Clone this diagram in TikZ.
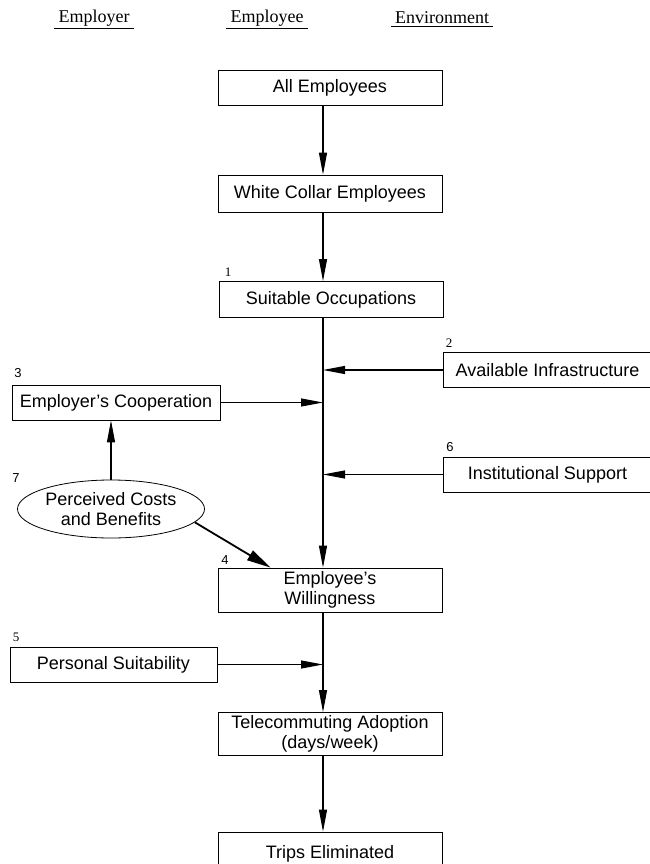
\documentclass[tikz,border=0pt]{standalone}
\usepackage{fontspec}
\setmainfont{Liberation Serif}
\setsansfont{Liberation Sans}
\usetikzlibrary{arrows.meta,shapes.geometric}

\begin{document}
\begin{tikzpicture}[x=1pt,y=-1pt,
  every node/.style = {inner sep=0pt},
  box/.style  = {draw, line width=0.8pt, minimum width=224pt, minimum height=35pt, align=center, font=\sffamily\fontsize{18}{20}\selectfont},
  oval/.style = {draw, ellipse, line width=0.8pt, minimum width=187pt, minimum height=58pt, align=center, font=\sffamily\fontsize{18}{20}\selectfont},
  head/.style = {font=\fontsize{18}{20}\selectfont},
  tag/.style  = {font=\fontsize{13}{13}\selectfont},
  tag sf/.style = {font=\sffamily\fontsize{13}{13}\selectfont},
  flow edge/.style = {-{Triangle[length=22pt,width=8pt]}, line width=1.1pt},
  bold edge/.style = {-{Triangle[length=24pt,width=11pt]}, line width=1.8pt}]
\useasboundingbox (0,0) rectangle (650,864);

% column headings
\node[head] (hemplr) at (94,18) {Employer};
\node[head] (hemple) at (267,18) {Employee};
\node[head] (henv)   at (442,18) {Environment};
\foreach \h in {hemplr,hemple,henv}
  { \draw[line width=0.9pt] ([xshift=-4pt,yshift=-2pt]\h.south west) -- ([xshift=4pt,yshift=-2pt]\h.south east); }

% main chain
\node[box] (all)   at (330,88)  {All Employees};
\node[box, minimum height=37pt] (white) at (330,193.5) {White Collar Employees};
\node[tag] (t1) at (228,272) {1};
\node[box, minimum height=36pt] (suit)  at (331,299.5) {Suitable Occupations};
\node[tag sf] (t4) at (225,560) {4};
\node[box, minimum height=44pt] (will)  at (330,590) {Employee's\\Willingness};
\node[box, minimum height=43pt] (tele)  at (330,734) {Telecommuting Adoption\\(days/week)};
\node[box, minimum height=44pt] (trips) at (330,854) {Trips Eliminated};

% environment
\node[tag] (t2) at (449,343) {2};
\node[box, minimum width=209pt] (infra) at (547.5,370) {Available Infrastructure};
\node[tag sf] (t6) at (450,447) {6};
\node[box, minimum width=209pt] (inst)  at (547.5,474.5) {Institutional Support};

% employer
\node[tag sf] (t3) at (18,373) {3};
\node[box, minimum width=208pt] (coop) at (116,402.5) {Employer's Cooperation};
\node[tag sf] (t7) at (16,478) {7};
\node[oval] (costs) at (111,509) {Perceived Costs\\and Benefits};
\node[tag] (t5) at (16,637) {5};
\node[box, minimum width=207pt] (pers) at (113.5,664.5) {Personal Suitability};

\coordinate (spine) at (323,0);

\foreach \a/\b in {all/white, white/suit, suit/will, will/tele, tele/trips}
  { \draw[flow edge] (\a.south -| spine) -- (\b.north -| spine); }
\foreach \s in {infra, inst}
  { \draw[flow edge] (\s.west) -- (\s.west -| spine); }
\foreach \s in {coop, pers}
  { \draw[flow edge] (\s.east) -- (\s.east -| spine); }
\draw[flow edge] (costs.north) -- (costs.north |- coop.south);
\draw[bold edge] (costs.-9) -- ([xshift=53pt]will.north west);

\end{tikzpicture}
\end{document}
